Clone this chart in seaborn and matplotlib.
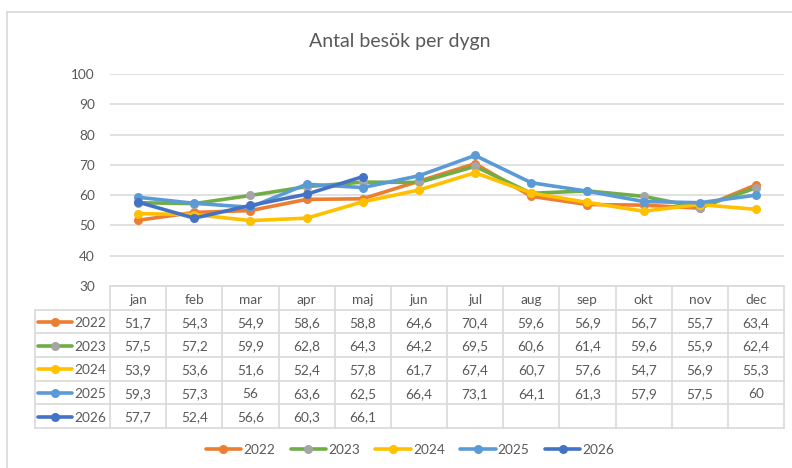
import numpy as np
import pandas as pd
import seaborn as sns
import matplotlib.pyplot as plt
from matplotlib.lines import Line2D

# data
months = ["jan", "feb", "mar", "apr", "maj", "jun", "jul", "aug", "sep", "okt", "nov", "dec"]
years = ["2022", "2023", "2024", "2025", "2026"]
v2022 = [51.7, 54.3, 54.9, 58.6, 58.8, 64.6, 70.4, 59.6, 56.9, 56.7, 55.7, 63.4]
v2023 = [57.5, 57.2, 59.9, 62.8, 64.3, 64.2, 69.5, 60.6, 61.4, 59.6, 55.9, 62.4]
v2024 = [53.9, 53.6, 51.6, 52.4, 57.8, 61.7, 67.4, 60.7, 57.6, 54.7, 56.9, 55.3]
v2025 = [59.3, 57.3, 56.0, 63.6, 62.5, 66.4, 73.1, 64.1, 61.3, 57.9, 57.5, 60.0]
v2026 = [57.7, 52.4, 56.6, 60.3, 66.1]
series = [v2022, v2023, v2024, v2025, v2026]

line_colors = ["#ED7D31", "#70AD47", "#FFC000", "#5B9BD5", "#4472C4"]
marker_colors = ["#ED7D31", "#A5A5A5", "#FFC000", "#5B9BD5", "#4472C4"]
txt = "#595959"
grid = "#D9D9D9"

rows = []
for y, vals in zip(years, series):
    for i, v in enumerate(vals):
        rows.append({"year": y, "m": i, "val": v})
df = pd.DataFrame(rows)

sns.set_style("white")
plt.rcParams["font.family"] = ["Lato", "DejaVu Sans"]

W, H = 792, 468
fig = plt.figure(figsize=(W / 100, H / 100), dpi=100)

def box(x0, y0, x1, y1):
    return [x0 / W, 1 - y1 / H, (x1 - x0) / W, (y1 - y0) / H]

ax = fig.add_axes(box(110, 74, 784, 286))
sns.lineplot(data=df, x="m", y="val", hue="year", hue_order=years,
             palette=line_colors, marker="o", markersize=6.5,
             markeredgewidth=0, linewidth=2.6, legend=False, ax=ax)
for ln, mc in zip(ax.lines, marker_colors):
    ln.set_markerfacecolor(mc)
    ln.set_markeredgecolor(mc)
    ln.set_solid_capstyle("round")

ax.set_xlim(-0.5, 11.5)
ax.set_ylim(30, 100)
ax.set_yticks(range(30, 101, 10))
ax.set_xticks([])
ax.set_xlabel("")
ax.set_ylabel("")
ax.yaxis.grid(True, color=grid, linewidth=1.1)
ax.set_axisbelow(True)
ax.tick_params(axis="y", length=0, pad=11, labelsize=9.8, labelcolor=txt)
for s in ax.spines.values():
    s.set_visible(False)

# data table under the plot
tab = fig.add_axes(box(110, 286, 784, 428))
tab.set_xlim(-0.5, 11.5)
tab.set_ylim(6, 0)
tab.axis("off")
lab_left = -0.5 - 75 / 56.17
kw = dict(color=grid, linewidth=1.2, clip_on=False)
# horizontal lines
tab.plot([-0.5, 11.5], [0, 0], **kw)
for r in range(1, 7):
    tab.plot([lab_left, 11.5], [r, r], **kw)
# vertical lines
tab.plot([lab_left, lab_left], [1, 6], **kw)
for c in range(13):
    tab.plot([c - 0.5, c - 0.5], [0, 6], **kw)

for i, m in enumerate(months):
    tab.text(i, 0.55, m, ha="center", va="center_baseline", fontsize=9.8, color=txt)

for r, (y, vals) in enumerate(zip(years, series), start=1):
    for i, v in enumerate(vals):
        tab.text(i, r + 0.52, f"{v:g}".replace(".", ","), ha="center", va="center_baseline",
                 fontsize=9.8, color=txt)
    tab.plot([lab_left + 0.05, lab_left + 0.66], [r + 0.52, r + 0.52],
             color=line_colors[r - 1], linewidth=2.6, solid_capstyle="round", clip_on=False)
    tab.plot([lab_left + 0.35], [r + 0.52], "o", color=marker_colors[r - 1],
             markersize=6.5, markeredgewidth=0, clip_on=False)
    tab.text(lab_left + 0.7, r + 0.52, y, ha="left", va="center_baseline", fontsize=9.8,
             color=txt)

# legend at the bottom
handles = [Line2D([], [], color=lc, linewidth=2.6, marker="o", markersize=6.5,
                  markerfacecolor=mc, markeredgewidth=0)
           for lc, mc in zip(line_colors, marker_colors)]
leg = fig.legend(handles, years, loc="center", bbox_to_anchor=(410 / W, 1 - 450 / H),
                 ncol=5, frameon=False, fontsize=9.8, handlelength=2.6,
                 handletextpad=0.15, columnspacing=1.15, labelcolor=txt)

fig.text(400 / W, 1 - 42 / H, "Antal besök per dygn", ha="center", va="center",
         fontsize=14, color=txt)

# chart area border (left and top visible)
fig.add_artist(Line2D([7 / W, 7 / W], [0, 1 - 12 / H], color=grid, linewidth=1.2))
fig.add_artist(Line2D([7 / W, 1], [1 - 12 / H, 1 - 12 / H], color=grid, linewidth=1.2))

fig.savefig("out.png", dpi=100)
